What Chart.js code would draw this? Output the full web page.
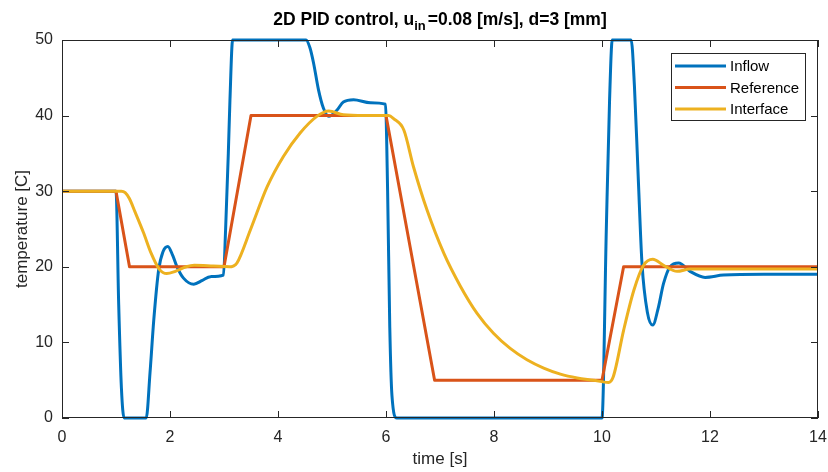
<!DOCTYPE html>
<html>
<head>
<meta charset="utf-8">
<script src="https://cdn.jsdelivr.net/npm/chart.js@4.4.1/dist/chart.umd.min.js"></script>
<style>
  html, body { margin: 0; padding: 0; background: #ffffff; }
  #wrap { width: 828px; height: 472px; position: relative; }
</style>
</head>
<body>
<div id="wrap"><canvas id="c" width="828" height="472"></canvas></div>
<script>
// Time axis ticks and temperature axis ticks
const timeTicks = [0, 2, 4, 6, 8, 10, 12, 14];
const tempTicks = [0, 10, 20, 30, 40, 50];

// Inflow temperature (controller output, saturated at 0 and 50)
const inflowT = [0, 1.0, 1.05, 1.1, 1.15, 1.56, 1.63, 1.70, 1.79, 1.87, 1.96, 2.05, 2.13, 2.25, 2.44, 2.6, 2.75, 2.99,
  3.03, 3.08, 3.11, 3.16, 4.52, 4.59, 4.66, 4.75, 4.84, 4.94, 5.09, 5.21, 5.4, 5.71, 5.99, 6.03, 6.07, 6.11, 6.2,
  10.0, 10.08, 10.14, 10.19, 10.54, 10.6, 10.67, 10.74, 10.84, 10.94, 11.04, 11.14, 11.26, 11.42, 11.63, 11.91, 12.25, 13, 14];
const inflowV = [30, 30, 15, 4, 0, 0, 6, 13, 19.6, 22, 22.7, 21.5, 20, 18.5, 17.7, 18.2, 18.7, 18.9,
  25, 35, 42, 50, 50, 49, 46.9, 43.4, 41, 39.9, 40.7, 41.8, 42.1, 41.7, 41.5, 30, 12, 3, 0,
  0, 25, 42, 50, 50, 44, 32, 20.5, 14, 12.3, 14.5, 17.8, 20, 20.5, 19.4, 18.6, 18.9, 19, 19];

// Reference temperature (ramped set-point)
const refT = [0, 1.0, 1.25, 3.0, 3.5, 6.0, 6.9, 10.0, 10.4, 14];
const refV = [30, 30, 20, 20, 40, 40, 5, 5, 20, 20];

// Interface temperature (measured response)
const ifaceT = [0, 1.1, 1.17, 1.25, 1.35, 1.51, 1.65, 1.8, 1.94, 2.1, 2.3, 2.45, 2.8, 3.1, 3.17, 3.24, 3.49, 3.8, 4.1, 4.41,
  4.72, 4.94, 5.21, 5.6, 6.05, 6.14, 6.33, 6.51, 6.76, 7.07, 7.38, 7.69, 7.99, 8.3, 8.61, 8.92, 9.23, 9.54, 9.84,
  10.12, 10.21, 10.4, 10.59, 10.77, 10.94, 11.14, 11.39, 11.63, 12, 14];
const ifaceV = [30, 30, 29.8, 29, 27.3, 24.5, 21.8, 19.7, 19.1, 19.4, 20, 20.2, 20.1, 20.0, 20.1, 20.5, 24.9, 30.6, 34.6, 37.7,
  39.9, 40.6, 40.1, 40, 40, 39.6, 38.1, 33.2, 27.5, 21.8, 17.4, 13.8, 11.2, 9.2, 7.7, 6.6, 5.8, 5.3, 5.0,
  4.7, 5.5, 11.6, 16.9, 20.2, 21.0, 20.2, 19.4, 19.7, 19.7, 19.7];

const pts = (ts, vs) => ts.map((t, i) => ({ x: t, y: vs[i] }));

const FONT = "'Liberation Sans', Arial, Helvetica, sans-serif";
const AXIS_COLOR = '#262626';

// MATLAB-style box with inward ticks on all four sides
const boxPlugin = {
  id: 'box',
  afterDatasetsDraw(chart) {
    const { ctx, chartArea: a, scales } = chart;
    ctx.save();
    ctx.strokeStyle = AXIS_COLOR;
    ctx.lineWidth = 1;
    ctx.strokeRect(a.left + 0.5, a.top + 0.5, a.right - a.left - 1, a.bottom - a.top - 1);
    const len = 7;
    ctx.beginPath();
    timeTicks.forEach(v => {
      const x = Math.round(scales.x.getPixelForValue(v)) + 0.5;
      ctx.moveTo(x, a.bottom); ctx.lineTo(x, a.bottom - len);
      ctx.moveTo(x, a.top); ctx.lineTo(x, a.top + len);
    });
    tempTicks.forEach(v => {
      const y = Math.round(scales.y.getPixelForValue(v)) + 0.5;
      ctx.moveTo(a.left, y); ctx.lineTo(a.left + len, y);
      ctx.moveTo(a.right, y); ctx.lineTo(a.right - len, y);
    });
    ctx.stroke();
    ctx.restore();
  }
};

// Title with subscript
const titlePlugin = {
  id: 'subTitle',
  afterDraw(chart) {
    const { ctx, chartArea: a } = chart;
    const parts = [
      { t: '2D PID control, u', sub: false },
      { t: 'in', sub: true },
      { t: '=0.08 [m/s], d=3 [mm]', sub: false }
    ];
    ctx.save();
    ctx.fillStyle = '#000000';
    ctx.textBaseline = 'alphabetic';
    let total = 0;
    parts.forEach(p => {
      ctx.font = (p.sub ? 'bold 13px ' : 'bold 17.5px ') + FONT;
      p.w = ctx.measureText(p.t).width + (p.sub ? 2 : 0);
      total += p.w;
    });
    let x = (a.left + a.right) / 2 - total / 2;
    const base = 25;
    parts.forEach(p => {
      ctx.font = (p.sub ? 'bold 13px ' : 'bold 17.5px ') + FONT;
      ctx.fillText(p.t, x, p.sub ? base + 5 : base);
      x += p.w;
    });
    ctx.restore();
  }
};

// Boxed legend inside the upper right corner
const legendPlugin = {
  id: 'boxLegend',
  afterDraw(chart) {
    const { ctx } = chart;
    const x0 = 671, y0 = 53, w = 134, h = 67;
    ctx.save();
    ctx.fillStyle = '#ffffff';
    ctx.fillRect(x0, y0, w, h);
    ctx.strokeStyle = AXIS_COLOR;
    ctx.lineWidth = 1;
    ctx.strokeRect(x0 + 0.5, y0 + 0.5, w, h);
    ctx.font = '15px ' + FONT;
    ctx.textBaseline = 'middle';
    chart.data.datasets.forEach((ds, i) => {
      const y = y0 + 13 + i * 21.5;
      ctx.strokeStyle = ds.borderColor;
      ctx.lineWidth = 3;
      ctx.beginPath();
      ctx.moveTo(x0 + 4, y); ctx.lineTo(x0 + 55, y);
      ctx.stroke();
      ctx.fillStyle = '#000000';
      ctx.fillText(ds.label, x0 + 59, y + 1);
    });
    ctx.restore();
  }
};

new Chart(document.getElementById('c'), {
  type: 'line',
  data: {
    datasets: [
      { label: 'Inflow', data: pts(inflowT, inflowV), borderColor: '#0072BD', order: 3, cubicInterpolationMode: 'monotone' },
      { label: 'Reference', data: pts(refT, refV), borderColor: '#D95319', order: 2, tension: 0 },
      { label: 'Interface', data: pts(ifaceT, ifaceV), borderColor: '#EDB120', order: 1, cubicInterpolationMode: 'monotone' }
    ]
  },
  options: {
    responsive: false,
    animation: false,
    layout: { padding: { top: 40, right: 10, left: 0, bottom: 0 } },
    elements: {
      point: { radius: 0, hoverRadius: 0 },
      line: { borderWidth: 3, fill: false, borderCapStyle: 'butt', borderJoinStyle: 'round' }
    },
    datasets: { line: { clip: 4 } },
    plugins: {
      legend: { display: false },
      title: { display: false },
      tooltip: { enabled: false }
    },
    scales: {
      x: {
        type: 'linear',
        min: 0, max: 14,
        afterBuildTicks: s => { s.ticks = timeTicks.map(v => ({ value: v })); },
        afterFit: s => { s.height = 54; s.paddingLeft = 0; s.paddingRight = 0; },
        grid: { display: false, drawTicks: false },
        border: { display: false },
        ticks: { color: AXIS_COLOR, font: { family: FONT, size: 16 }, padding: 10, maxRotation: 0 },
        title: { display: true, text: 'time [s]', color: AXIS_COLOR, font: { family: FONT, size: 17 }, padding: { top: 2, bottom: 2 } }
      },
      y: {
        type: 'linear',
        min: 0, max: 50,
        afterBuildTicks: s => { s.ticks = tempTicks.map(v => ({ value: v })); },
        afterFit: s => { s.width = 62; s.paddingTop = 0; s.paddingBottom = 0; },
        grid: { display: false, drawTicks: false },
        border: { display: false },
        ticks: { color: AXIS_COLOR, font: { family: FONT, size: 16 }, padding: 9 },
        title: { display: true, text: 'temperature [C]', color: AXIS_COLOR, font: { family: FONT, size: 17 }, padding: { top: 12, bottom: 0 } }
      }
    }
  },
  plugins: [boxPlugin, titlePlugin, legendPlugin]
});
</script>
</body>
</html>
